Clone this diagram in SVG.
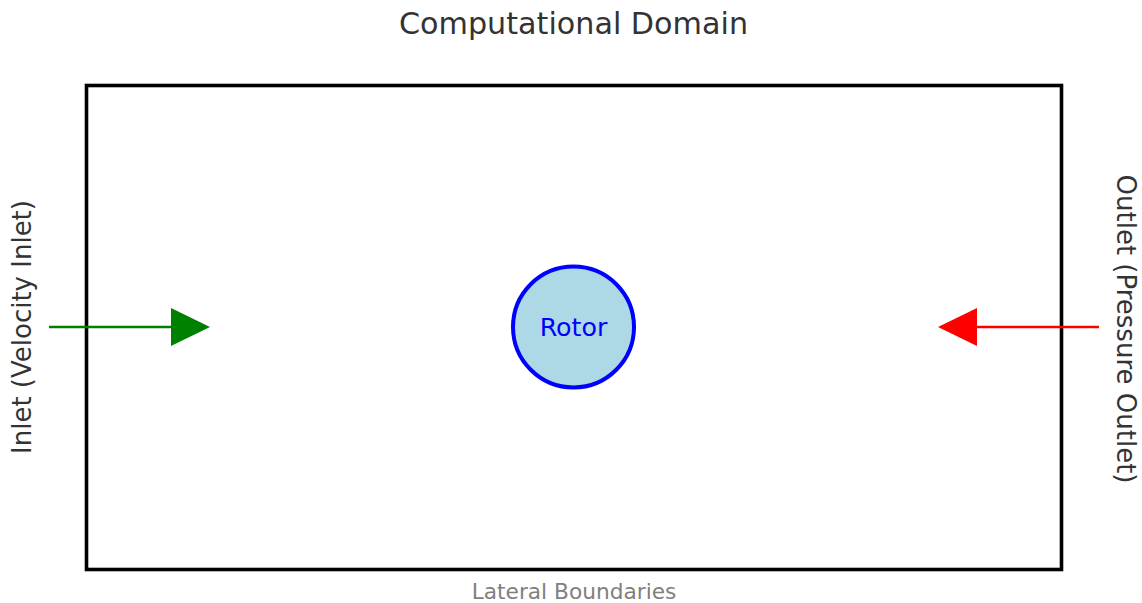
<svg xmlns="http://www.w3.org/2000/svg" width="1142" height="603" viewBox="0 0 1142 603">
  <style>
    .label { font-family: "DejaVu Sans", sans-serif; fill: #333333; }
    .title { font-size: 30.2px; text-anchor: middle; }
    .side { font-size: 26px; text-anchor: middle; }
    .rotor-text { font-family: "DejaVu Sans", sans-serif; font-size: 25.3px; fill: #0000ff; text-anchor: middle; }
    .lateral { font-family: "DejaVu Sans", sans-serif; font-size: 21.7px; fill: #808080; text-anchor: middle; }
    .domain { fill: none; stroke: #000000; stroke-width: 3.6; }
    .rotor { fill: #add8e6; stroke: #0000ff; stroke-width: 4; }
    .inflow { stroke: #008000; stroke-width: 2.6; fill: none; }
    .outflow { stroke: #ff0000; stroke-width: 2.6; fill: none; }
  </style>

  <rect width="1142" height="603" fill="#ffffff"/>

  <text class="label title" x="573.5" y="34">Computational Domain</text>

  <g id="domain">
    <rect class="domain" x="86.5" y="85.5" width="975" height="484"/>
  </g>

  <g id="rotor">
    <circle class="rotor" cx="573.5" cy="327" r="60.5"/>
    <text class="rotor-text" x="573.5" y="336">Rotor</text>
  </g>

  <g id="inlet">
    <text class="label side" transform="translate(31,327) rotate(-90)">Inlet (Velocity Inlet)</text>
  </g>

  <g id="outlet">
    <text class="label side" transform="translate(1117,329) rotate(90)">Outlet (Pressure Outlet)</text>
  </g>

  <g id="lateral">
    <text class="lateral" x="574" y="599">Lateral Boundaries</text>
  </g>

  <g id="connectors">
    <line class="inflow" x1="49" y1="327" x2="172" y2="327"/>
    <polygon points="171,308 210,327 171,346" fill="#008000"/>
    <line class="outflow" x1="976" y1="327" x2="1099" y2="327"/>
    <polygon points="977,308 938,327 977,346" fill="#ff0000"/>
  </g>
</svg>
